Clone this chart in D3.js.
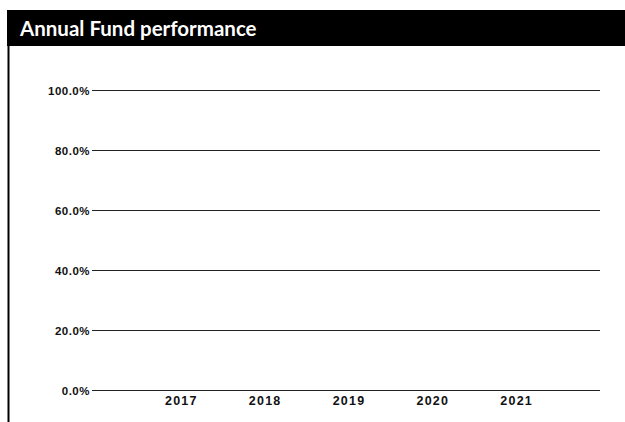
<!DOCTYPE html>
<html lang="en">
<head>
    <meta charset="UTF-8">
    <title>Annual Fund performance</title>
    <style>
        body{
            margin:0px;
            background-color: #ffffff;
        }
        svg{
            display: block;
        }
    </style>
</head>
<body>
    <svg></svg>

    <script src="https://d3js.org/d3.v7.min.js"></script>
    <script>
        // Data
        var title = "Annual Fund performance";
        var years = [2017, 2018, 2019, 2020, 2021];
        var yTicks = [0, 0.2, 0.4, 0.6, 0.8, 1.0];

        let width = 625, height = 422;

        let svg = d3.select("svg")
            .attr("width", width)
            .attr("height", height);

        // title bar + left rule
        svg.append("rect")
            .attr("x", 7).attr("y", 10)
            .attr("width", width - 7).attr("height", 36)
            .attr("fill", "#000");

        svg.append("text")
            .attr("x", 20).attr("y", 36)
            .attr("fill", "#fff")
            .attr("font-family", "Lato")
            .attr("font-weight", "bold")
            .attr("font-size", 20.5)
            .text(title);

        svg.append("line")
            .attr("x1", 8.5).attr("x2", 8.5)
            .attr("y1", 46).attr("y2", height)
            .attr("stroke", "#000")
            .attr("stroke-width", 2);

        // scales
        const x = d3.scaleLinear()
            .domain([d3.min(years) - 1, d3.max(years) + 1])
            .range([97, 600]);

        const y = d3.scaleLinear()
            .domain([0, 1])
            .range([390, 90]);

        // y axis with full-width gridlines
        const yAxis = svg.append("g")
            .attr("transform", "translate(92,0)")
            .call(d3.axisRight(y)
                .tickValues(yTicks)
                .tickSize(508)
                .tickFormat(d3.format(".1%")));

        yAxis.select(".domain").remove();
        yAxis.selectAll(".tick line")
            .attr("stroke", "#222")
            .attr("stroke-width", 1);
        yAxis.selectAll(".tick text")
            .attr("x", -2)
            .attr("dy", "0.35em")
            .attr("text-anchor", "end")
            .attr("fill", "#111")
            .attr("font-family", "Liberation Sans")
            .attr("font-weight", "bold")
            .attr("font-size", 11.5)
            .attr("letter-spacing", 0.5);

        // x axis labels
        const xAxis = svg.append("g")
            .attr("transform", "translate(0,390)")
            .call(d3.axisBottom(x)
                .tickValues(years)
                .tickSize(0)
                .tickPadding(6)
                .tickFormat(d3.format("d")));

        xAxis.select(".domain").remove();
        xAxis.selectAll(".tick text")
            .attr("fill", "#111")
            .attr("font-family", "Liberation Sans")
            .attr("font-weight", "bold")
            .attr("font-size", 12.5)
            .attr("letter-spacing", 1.2);
    </script>
</body>
</html>
